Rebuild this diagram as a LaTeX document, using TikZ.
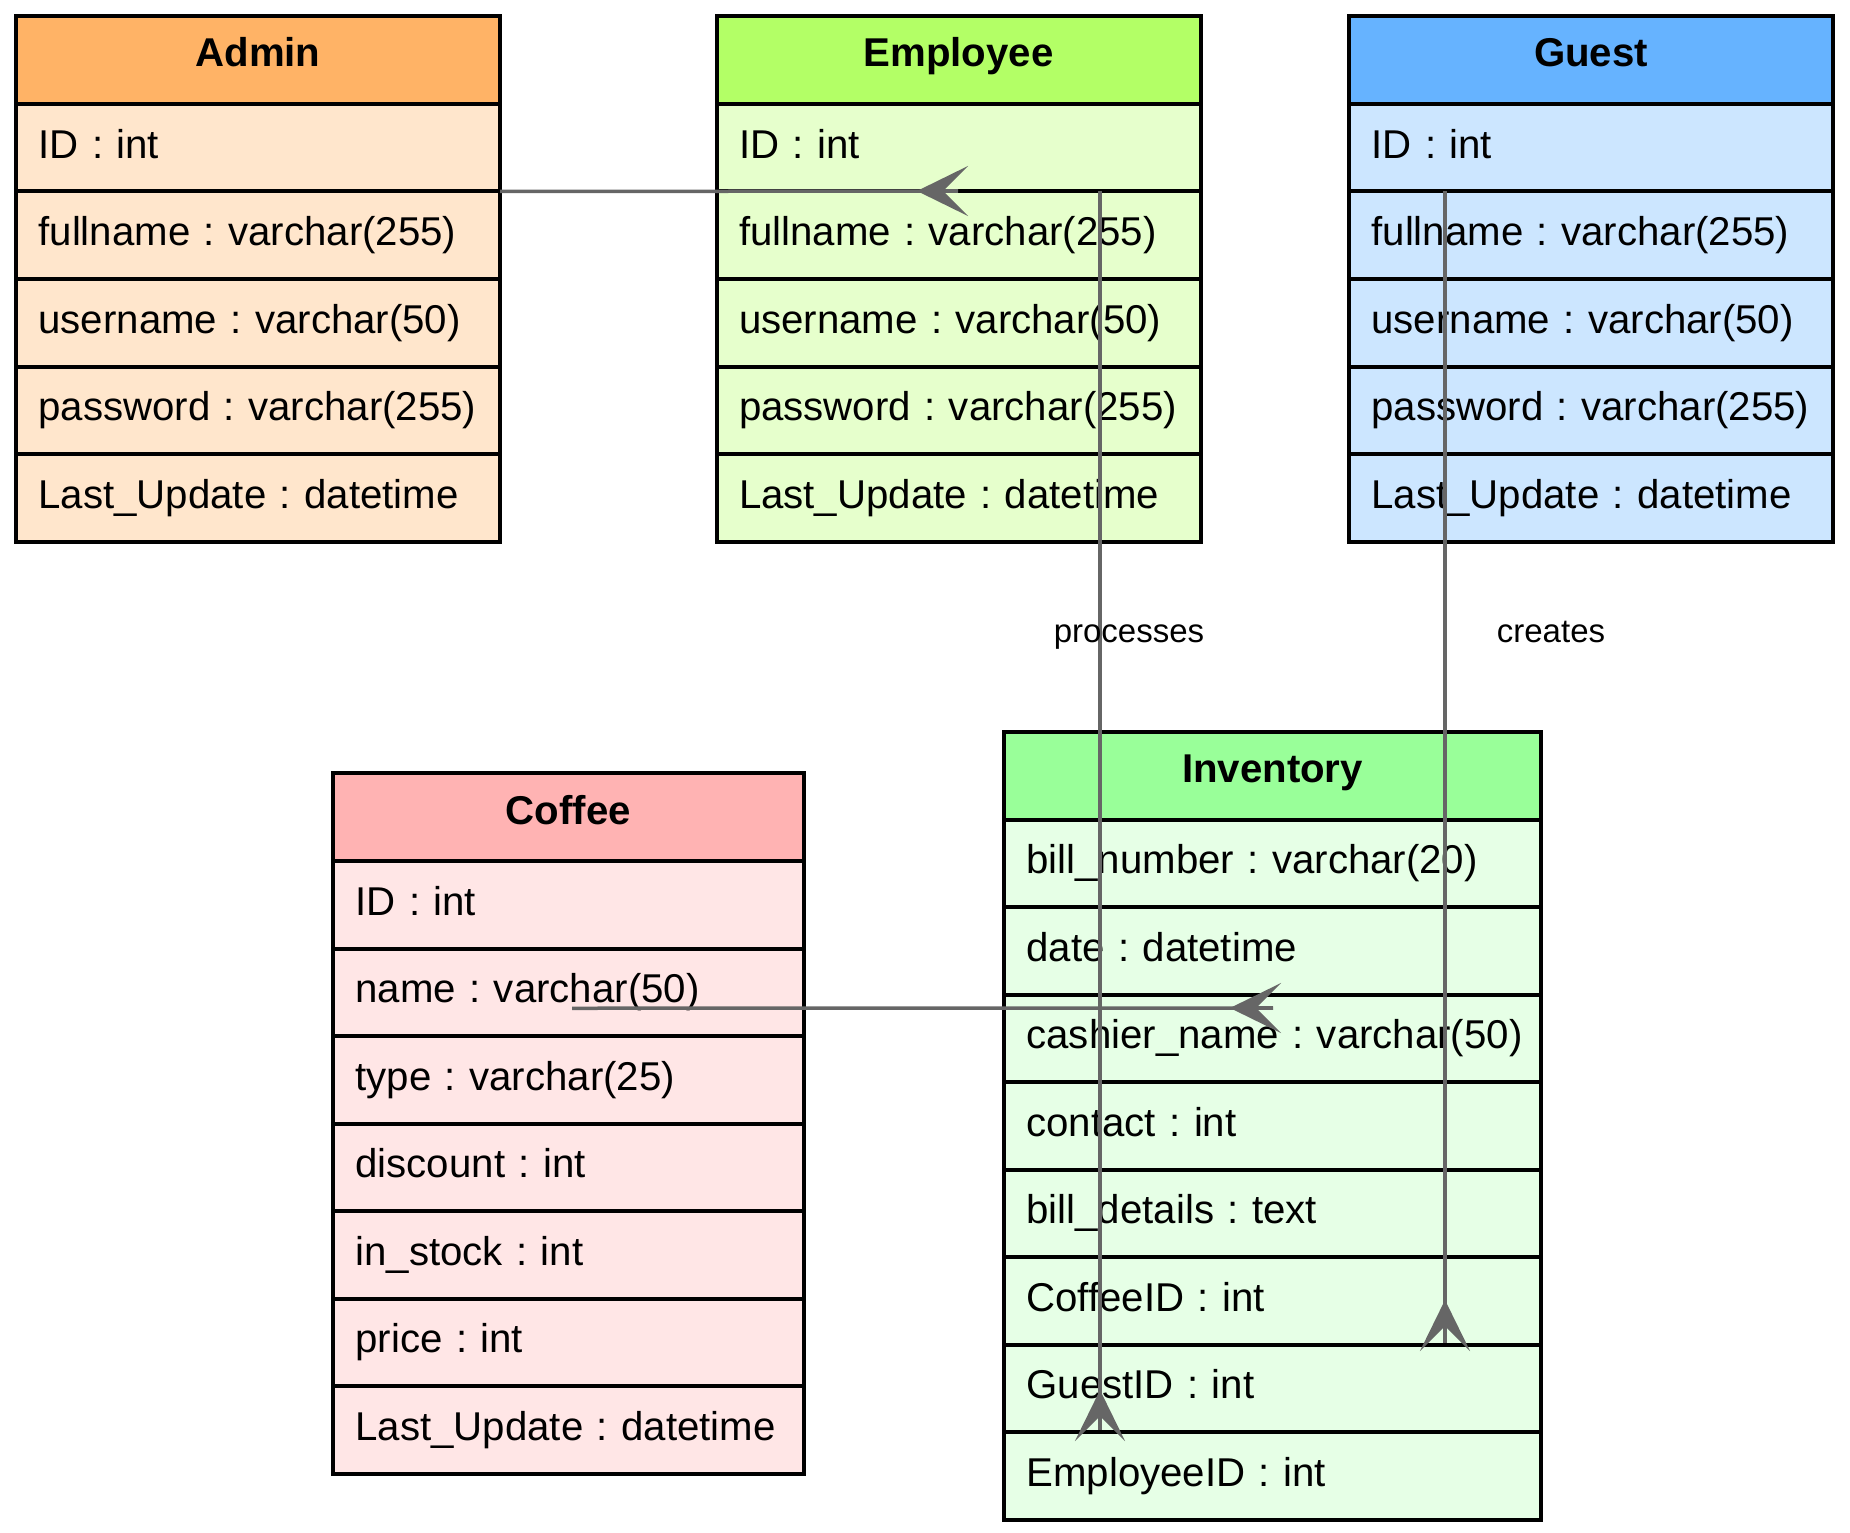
\documentclass[tikz,border=0pt]{standalone}
\usepackage{fontspec}
\setmainfont{Liberation Sans}
\usetikzlibrary{arrows.meta,calc}
\frenchspacing
\definecolor{adminH}{HTML}{FFB366}\definecolor{adminB}{HTML}{FFE6CC}
\definecolor{empH}{HTML}{B3FF66}\definecolor{empB}{HTML}{E6FFCC}
\definecolor{guestH}{HTML}{66B3FF}\definecolor{guestB}{HTML}{CCE6FF}
\definecolor{cofH}{HTML}{FFB3B3}\definecolor{cofB}{HTML}{FFE6E6}
\definecolor{invH}{HTML}{99FF99}\definecolor{invB}{HTML}{E6FFE6}
\definecolor{edgegray}{HTML}{666666}
\tikzset{
  hdrbox/.style={draw=black, line width=4pt, rectangle, outer sep=0pt, inner ysep=0pt,
    inner xsep=22.5pt, minimum height=88pt, text height=24pt, text depth=10pt,
    align=center, font=\fontsize{40.2}{48}\selectfont\bfseries\frenchspacing, anchor=north west},
  rowbox/.style={draw=black, line width=4pt, rectangle, outer sep=0pt, inner ysep=0pt,
    inner xsep=22.5pt, minimum height=87.5pt, text height=30.6pt, text depth=10pt,
    align=left, font=\fontsize{40.2}{48}\selectfont\frenchspacing, anchor=north west},
  edgeline/.style={draw=edgegray, line width=3.5pt},
  vee/.style={-{Stealth[length=51pt, width=50pt, inset=25pt]}},
  lbl/.style={font=\fontsize{33}{40}\selectfont, anchor=base, inner sep=0pt}
}
\newcommand\erbox[8]{%
  \pgfmathsetmacro\tw{#4-45}%
  \node[hdrbox, fill=#6, text width=\tw pt] (#1-h) at (#2,#3) {\mbox{#5}};
  \foreach \r [count=\i] in {#8} {%
    \pgfmathsetmacro\yy{#3+88+(\i-1)*87.5}%
    \node[rowbox, fill=#7, text width=\tw pt] (#1-\i) at (#2,\yy) {\mbox{\r}};
  }%
}
\begin{document}
\begin{tikzpicture}[x=1pt, y=-1pt]
\useasboundingbox (0,0) rectangle (1850,1533);
\erbox{admin}{16}{16}{484}{Admin}{adminH}{adminB}{ID : int, fullname : varchar(255), username : varchar(50), password : varchar(255), Last\_Update : datetime}
\erbox{employee}{716.5}{16}{484}{Employee}{empH}{empB}{ID : int, fullname : varchar(255), username : varchar(50), password : varchar(255), Last\_Update : datetime}
\erbox{guest}{1349}{16}{484}{Guest}{guestH}{guestB}{ID : int, fullname : varchar(255), username : varchar(50), password : varchar(255), Last\_Update : datetime}
\erbox{coffee}{333}{773}{471}{Coffee}{cofH}{cofB}{ID : int, name : varchar(50), type : varchar(25), discount : int, in\_stock : int, price : int, Last\_Update : datetime}
\erbox{inventory}{1004}{731.5}{537}{Inventory}{invH}{invB}{bill\_number : varchar(20), date : datetime, cashier\_name : varchar(50), contact : int, bill\_details : text, CoffeeID : int, GuestID : int, EmployeeID : int}
% Admin -> Employee
\coordinate (e1end) at (958,191);
\coordinate (e1tip) at (917,191);
\draw[edgeline] (admin-1.south east) -- (e1end);
\draw[edgeline, vee] (e1end) -- (e1tip);
% Employee -> Inventory (processes)
\coordinate (e2end) at (1100,1430);
\coordinate (e2tip) at (1100,1390);
\draw[edgeline] ([xshift=383.5pt]employee-1.south west) -- (e2end);
\draw[edgeline, vee] (e2end) -- (e2tip);
% Guest -> Inventory (creates)
\coordinate (e3end) at (1445,1343);
\coordinate (e3tip) at (1445,1300);
\draw[edgeline] ([xshift=96pt]guest-1.south west) -- (e3end);
\draw[edgeline, vee] (e3end) -- (e3tip);
% Coffee -> Inventory
\coordinate (e4end) at (1273,1008);
\coordinate (e4tip) at (1230,1008);
\draw[edgeline] ([xshift=3.5pt, yshift=-16pt]coffee-2.center) -- (e4end);
\draw[edgeline, vee] (e4end) -- (e4tip);
% labels
\node[lbl] (lproc) at (1129,642) {processes};
\node[lbl] (lcreate) at (1551,642) {creates};
\end{tikzpicture}
\end{document}
